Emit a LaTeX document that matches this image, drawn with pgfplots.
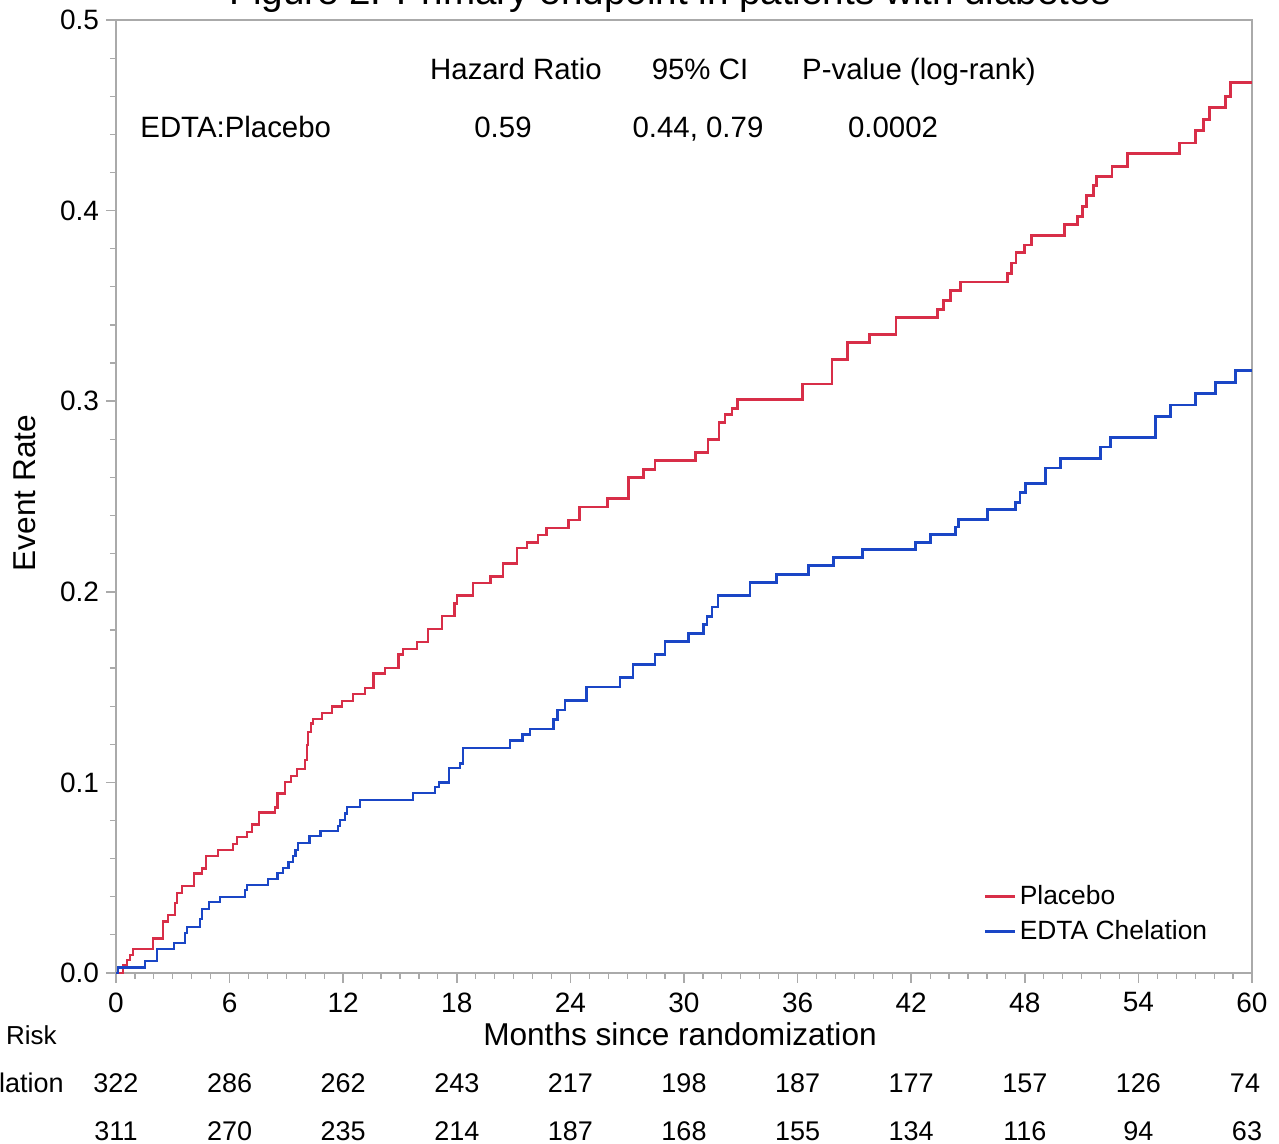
\documentclass[border=0pt]{standalone}
\usepackage{pgfplots}
\pgfplotsset{compat=1.18}
\usepackage{fontspec}
\setmainfont{Liberation Sans}
\definecolor{kmred}{RGB}{216,46,72}
\definecolor{kmblue}{RGB}{26,70,198}
\definecolor{axgray}{RGB}{170,170,170}
\begin{document}
\begin{tikzpicture}
\path[use as bounding box] (-58pt,-85.5pt) rectangle (581.5pt,486.5pt);
\clip (-58pt,-85.5pt) rectangle (581.5pt,486.5pt);
\begin{axis}[
  at={(0pt,0pt)}, anchor=south west,
  width=568pt, height=476.5pt, scale only axis,
  xmin=0, xmax=60, ymin=0, ymax=0.5,
  xtick={0,6,...,60}, minor x tick num=5,
  ytick={0,0.1,0.2,0.3,0.4,0.5}, minor y tick num=4,
  tick pos=left, tick align=outside,
  major tick length=5pt, minor tick length=3pt,
  axis line style={draw=axgray, line width=1pt},
  every tick/.style={draw=axgray, line width=0.8pt},
  every minor tick/.style={draw=axgray, line width=0.6pt},
  /pgf/number format/assume math mode=true,
  scaled y ticks=false,
  yticklabel style={/pgf/number format/fixed, /pgf/number format/fixed zerofill, /pgf/number format/precision=1, font=\fontsize{14}{16}\selectfont},
  xticklabel style={font=\fontsize{14}{16}\selectfont, yshift=-1.2pt},
  clip=false,
  legend style={at={(axis description cs:0.762,0.026)}, anchor=south west, draw=none, fill=none,
    font=\fontsize{13.2}{15}\selectfont, row sep=3.5pt, inner sep=1pt,
    nodes={inner sep=1.5pt}},
  legend cell align=left,
  legend image code/.code={\draw[#1] (0pt,0pt) -- (15pt,0pt);},
  /tikz/every even column/.append style={column sep=2pt},
]
\addplot[const plot, color=kmred, line width=1.4pt] coordinates {
(0,0) (0.37,0.004) (0.58,0.0068) (0.74,0.0094) (0.90,0.0126) (1.95,0.018) (2.48,0.027) (2.75,0.0304)
(3.12,0.0367) (3.22,0.042) (3.49,0.0456) (4.12,0.052) (4.54,0.055) (4.75,0.0614) (5.39,0.0645)
(6.18,0.0677) (6.39,0.0714) (6.92,0.074) (7.18,0.0777) (7.55,0.084) (8.40,0.087) (8.51,0.094)
(8.93,0.1002) (9.24,0.1034) (9.56,0.107) (9.98,0.1118) (10.09,0.1196) (10.14,0.1264) (10.30,0.131)
(10.41,0.1333) (10.88,0.1364) (11.41,0.14) (11.94,0.1427) (12.52,0.1464) (13.15,0.1495) (13.58,0.157)
(14.21,0.16) (14.90,0.167) (15.16,0.17) (15.90,0.1737) (16.48,0.1805) (17.22,0.1873) (17.86,0.194)
(18.01,0.198) (18.86,0.2046) (19.76,0.208) (20.44,0.215) (21.18,0.223) (21.71,0.226) (22.29,0.2298)
(22.72,0.2335) (23.88,0.2377) (24.46,0.2445) (25.94,0.249) (27.05,0.26) (27.84,0.264) (28.47,0.269)
(30.59,0.273) (31.27,0.28) (31.85,0.289) (32.17,0.293) (32.54,0.296) (32.81,0.301) (36.24,0.309)
(37.82,0.322) (38.62,0.331) (39.78,0.335) (41.20,0.344) (43.37,0.348) (43.69,0.353) (44.06,0.358)
(44.59,0.3625) (47.07,0.367) (47.28,0.3725) (47.54,0.378) (47.97,0.382) (48.34,0.387) (50.08,0.3925)
(50.77,0.397) (51.03,0.402) (51.24,0.408) (51.61,0.413) (51.77,0.418) (52.61,0.423) (53.41,0.43)
(56.15,0.4355) (57.00,0.442) (57.42,0.448) (57.74,0.454) (58.58,0.46) (58.85,0.467) (60,0.467)
};
\addlegendentry{Placebo}
\addplot[const plot, color=kmblue, line width=1.4pt] coordinates {
(0,0) (0.11,0.003) (1.53,0.0063) (2.17,0.0126) (3.06,0.0157) (3.64,0.021) (3.75,0.0241) (4.44,0.0283)
(4.54,0.0336) (4.91,0.0372) (5.49,0.0399) (6.81,0.0435) (6.92,0.0462) (8.03,0.0493) (8.51,0.0525)
(8.82,0.0551) (9.09,0.0582) (9.35,0.0614) (9.46,0.0645) (9.61,0.0682) (10.20,0.0719) (10.78,0.0745)
(11.73,0.0771) (11.83,0.0803) (12.10,0.0835) (12.20,0.0871) (12.89,0.0908) (15.69,0.0944) (16.85,0.0976)
(17.06,0.1) (17.59,0.1076) (18.17,0.11) (18.33,0.118) (20.81,0.122) (21.45,0.125) (21.87,0.128)
(23.09,0.133) (23.30,0.138) (23.72,0.143) (24.83,0.15) (26.62,0.155) (27.31,0.162) (28.47,0.167)
(29.00,0.174) (30.22,0.178) (31.01,0.183) (31.22,0.187) (31.48,0.192) (31.80,0.198) (33.49,0.205)
(34.87,0.209) (36.56,0.214) (37.88,0.218) (39.41,0.222) (42.21,0.226) (43.00,0.23) (44.32,0.234)
(44.48,0.238) (46.01,0.243) (47.49,0.247) (47.75,0.252) (48.02,0.257) (49.08,0.265) (49.87,0.27)
(51.98,0.276) (52.51,0.281) (54.89,0.292) (55.68,0.298) (57.00,0.304) (58.06,0.31) (59.11,0.316) (60,0.316)
};
\addlegendentry{EDTA Chelation}
% hazard table
\begin{scope}[every node/.style={font=\fontsize{14.7}{17}\selectfont, inner sep=0pt, anchor=base}]
\node at (200pt,446.5pt) {Hazard Ratio};
\node at (292pt,446.5pt) {95\% CI};
\node at (401.5pt,446.5pt) {P-value (log-rank)};
\node[anchor=base west] at (12pt,417.5pt) {EDTA:Placebo};
\node at (193.5pt,417.5pt) {0.59};
\node at (291pt,417.5pt) {0.44, 0.79};
\node at (388.5pt,417.5pt) {0.0002};
\end{scope}
\end{axis}
% title (cropped at top in the reference)
\node[anchor=base, inner sep=0pt, font=\fontsize{19.3}{22}\selectfont] at (277pt,484pt) {Figure 2. Primary endpoint in patients with diabetes};
% axis labels
\node[anchor=base, inner sep=0pt, font=\fontsize{15.8}{18}\selectfont] at (282pt,-36.5pt) {Months since randomization};
\node[rotate=90, anchor=base, inner sep=0pt, font=\fontsize{15.8}{18}\selectfont] at (-40pt,240pt) {Event Rate};
% number at risk
\begin{scope}[every node/.style={font=\fontsize{13.5}{16}\selectfont, inner sep=0pt, anchor=base}]
\node[anchor=base east, font=\fontsize{13}{15}\selectfont] at (-29.5pt,-36pt) {Number at Risk};
\node[anchor=base east] at (-26pt,-60pt) {EDTA Chelation};
\node[anchor=base west] at (-122.8pt,-84pt) {Placebo};
\foreach \x/\a/\b in {0/322/311, 6/286/270, 12/262/235, 18/243/214, 24/217/187, 30/198/168, 36/187/155, 42/177/134, 48/157/116, 54/126/94} {
  \node at (\x*9.46667pt,-60pt) {\a};
  \node at (\x*9.46667pt,-84pt) {\b};
}
\node at (564.5pt,-60pt) {74};
\node at (565.5pt,-84pt) {63};
\end{scope}
\end{tikzpicture}
\end{document}
